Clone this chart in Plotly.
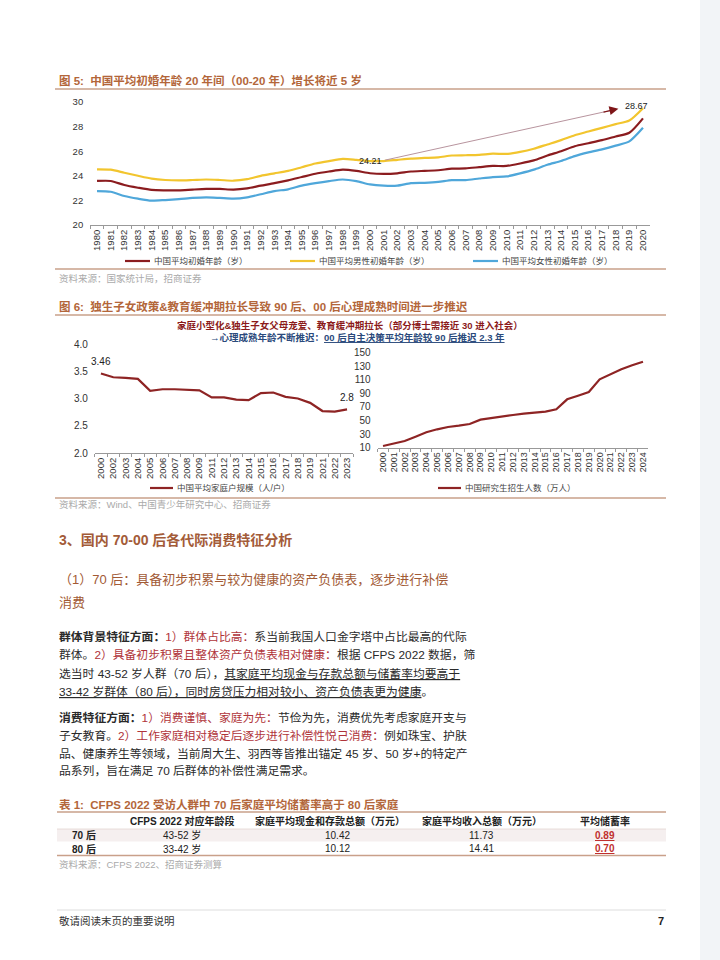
import plotly.graph_objects as go

W, H = 720, 960


def px(x):
    return x / W


def py(y):
    return 1 - y / H


FONT = "Liberation Sans, Noto Sans CJK SC, sans-serif"
TITLE_C = "#B3663A"
SEP_C = "#C9A08A"
RED_TXT = "#B0343A"
DARK = "#333333"

# ---------------- Figure 5 data ----------------
years5 = ["1980", "1981", "1982", "1983", "1984", "1985", "1986", "1987", "1988", "1989",
          "1990", "1991", "1992", "1993", "1994", "1995", "1996", "1997", "1998", "1999",
          "2000", "2001", "2002", "2003", "2004", "2005", "2006", "2007", "2008", "2009",
          "2010", "2011", "2012", "2013", "2014", "2015", "2016", "2017", "2018", "2019", "2020"]
mean_age = [23.58, 23.58, 23.25, 23.03, 22.85, 22.82, 22.82, 22.88, 22.93, 22.93, 22.88,
            22.98, 23.2, 23.4, 23.63, 23.9, 24.17, 24.35, 24.5, 24.4, 24.21,
            24.15, 24.2, 24.35, 24.4, 24.45, 24.58, 24.6, 24.7, 24.8, 24.8,
            25.0, 25.25, 25.65, 26.0, 26.4, 26.65, 26.9, 27.2, 27.5, 28.67]
male_age = [24.53, 24.5, 24.25, 24.0, 23.77, 23.66, 23.63, 23.66, 23.7, 23.66, 23.6,
            23.73, 24.0, 24.2, 24.4, 24.7, 25.0, 25.2, 25.37, 25.3, 25.2,
            25.2, 25.3, 25.4, 25.45, 25.5, 25.65, 25.67, 25.7, 25.8, 25.78,
            25.95, 26.2, 26.55, 26.9, 27.3, 27.6, 27.9, 28.2, 28.5, 29.5]
female_age = [22.76, 22.7, 22.36, 22.14, 21.98, 22.03, 22.1, 22.2, 22.25, 22.2, 22.14,
              22.25, 22.5, 22.76, 22.9, 23.2, 23.4, 23.57, 23.7, 23.57, 23.3,
              23.2, 23.2, 23.4, 23.43, 23.5, 23.65, 23.65, 23.78, 23.9, 23.95,
              24.2, 24.5, 24.9, 25.2, 25.6, 25.9, 26.15, 26.45, 26.8, 27.9]
names5 = ["中国平均初婚年龄（岁）", "中国平均男性初婚年龄（岁）", "中国平均女性初婚年龄（岁）"]
colors5 = ["#8B1C1F", "#F2C52E", "#4FA7DA"]

# ---------------- Figure 6 data ----------------
hh_years = ["2000", "2002", "2003", "2004", "2005", "2006", "2007", "2008", "2009", "2011",
            "2012", "2013", "2014", "2015", "2016", "2017", "2018", "2019", "2021", "2022", "2023"]
hh_size = [3.46, 3.39, 3.38, 3.36, 3.14, 3.17, 3.17, 3.16, 3.15, 3.02,
           3.02, 2.98, 2.97, 3.10, 3.11, 3.03, 3.00, 2.92, 2.77, 2.76, 2.80]
grad_years = ["2000", "2001", "2002", "2003", "2004", "2005", "2006", "2007", "2008", "2009",
              "2010", "2011", "2012", "2013", "2014", "2015", "2016", "2017", "2018", "2019",
              "2020", "2021", "2022", "2023", "2024"]
grad_enroll = [12.5, 16.5, 19.9, 26.2, 32.7, 37.1, 40.5, 42.4, 44.9, 51.3,
               53.8, 55.7, 58.2, 60.1, 61.6, 63.1, 66.5, 81.3, 86.6, 92.1,
               110.8, 118.2, 125.5, 131.4, 136.7]
name6a = "中国平均家庭户规模（人/户）"
name6b = "中国研究生招生人数（万人）"
LINE6 = "#8E2424"

# ---------------- Table data ----------------
tbl_headers = ["CFPS 2022 对应年龄段", "家庭平均现金和存款总额（万元）", "家庭平均收入总额（万元）", "平均储蓄率"]
tbl_cohorts = ["70 后", "80 后"]
tbl_ages = ["43-52 岁", "33-42 岁"]
tbl_cash = [10.42, 10.12]
tbl_income = [11.73, 14.41]
tbl_saving = [0.89, 0.70]

fig = go.Figure()

for vals, nm, c in zip([mean_age, male_age, female_age], names5, colors5):
    fig.add_trace(go.Scatter(x=years5, y=vals, name=nm, mode="lines",
                             line=dict(color=c, width=2.2, shape="spline", smoothing=0.7),
                             xaxis="x", yaxis="y", showlegend=False, hoverinfo="skip"))

fig.add_trace(go.Scatter(x=hh_years, y=hh_size, name=name6a, mode="lines",
                         line=dict(color=LINE6, width=2.2), xaxis="x2", yaxis="y2",
                         showlegend=False, hoverinfo="skip"))
fig.add_trace(go.Scatter(x=grad_years, y=grad_enroll, name=name6b, mode="lines",
                         line=dict(color=LINE6, width=2.2), xaxis="x3", yaxis="y3",
                         showlegend=False, hoverinfo="skip"))

xcommon = dict(type="category", tickangle=-90, tickfont=dict(size=9.5, color=DARK),
               tickmode="linear", tick0=0, dtick=1,
               ticks="outside", tickson="boundaries", ticklen=3, tickcolor="#999",
               showline=True, linecolor="#999", linewidth=1, showgrid=False, zeroline=False,
               fixedrange=True)
ycommon = dict(showgrid=False, zeroline=False, showline=False, ticks="",
               tickfont=dict(size=9.5, color=DARK), ticklabelstandoff=6, fixedrange=True)

fig.update_layout(
    width=W, height=H, margin=dict(l=0, r=0, t=0, b=0, autoexpand=False),
    paper_bgcolor="white", plot_bgcolor="rgba(0,0,0,0)",
    font=dict(family=FONT, color=DARK),
    xaxis=dict(xcommon, domain=[px(90.2), px(649.8)], anchor="y", range=[-0.5, 40.5]),
    yaxis=dict(ycommon, domain=[py(225), py(102)], anchor="x", range=[20, 30], dtick=2),
    xaxis2=dict(xcommon, domain=[px(94.8), px(353.2)], anchor="y2", range=[-0.5, 20.5]),
    yaxis2=dict(ycommon, domain=[py(453), py(344)], anchor="x2", range=[2, 4], dtick=0.5,
                tickformat=".1f", tickfont=dict(size=10, color=DARK)),
    xaxis3=dict(xcommon, domain=[px(377.6), px(648.4)], anchor="y3", range=[-0.5, 24.5],
                tickfont=dict(size=9, color=DARK)),
    yaxis3=dict(ycommon, domain=[py(447.7), py(352.7)], anchor="x3", range=[10, 150],
                tick0=10, dtick=20, tickfont=dict(size=10, color=DARK)),
    showlegend=False,
)

shapes = []


def hline(y, x0=55, x1=666, color=SEP_C, width=1.5):
    shapes.append(dict(type="line", xref="paper", yref="paper", x0=px(x0), x1=px(x1),
                       y0=py(y), y1=py(y), line=dict(color=color, width=width)))


# right page strip
shapes.append(dict(type="rect", xref="paper", yref="paper", x0=px(700), x1=1, y0=0, y1=1,
                   fillcolor="#F2F4F7", line=dict(width=0), layer="below"))
hline(89)
hline(269)
hline(315)
hline(498)
hline(812, 57)
hline(855.5, 57)
# table row band and inner line
shapes.append(dict(type="rect", xref="paper", yref="paper", x0=px(57), x1=px(666),
                   y0=py(841.5), y1=py(829), fillcolor="#F5EFEF", line=dict(width=0), layer="below"))
hline(829, 57, 666, "#E3D6D2", 0.8)
hline(910, 57, 666, "#DDDDDD", 1)

anns = []


def txt(x, y, s, size=12, color=DARK, xanchor="left", bold=False, **kw):
    if bold:
        s = "<b>" + s + "</b>"
    anns.append(dict(xref="paper", yref="paper", x=px(x), y=py(y), text=s, showarrow=False,
                     xanchor=xanchor, yanchor="middle", font=dict(size=size, color=color, family=FONT),
                     **kw))


def legend_key(x0, y, color, label, length=25):
    shapes.append(dict(type="line", xref="paper", yref="paper", x0=px(x0), x1=px(x0 + length),
                       y0=py(y), y1=py(y), line=dict(color=color, width=2.2)))
    txt(x0 + length + 2, y, label, 8.5, "#444")


# ---- Figure 5 text ----
txt(57, 81, "图 5:  中国平均初婚年龄 20 年间（00-20 年）增长将近 5 岁", 11.5, TITLE_C, bold=True)
for lx, c, nm in zip([125, 290, 473], colors5, names5):
    legend_key(lx, 261, c, nm)
txt(57, 278, "资料来源：国家统计局，招商证券", 9.5, "#AAAAAA")

i00 = years5.index("2000")
i20 = years5.index("2020")
anns.append(dict(xref="x", yref="y", x=i00, y=mean_age[i00], yshift=12, text=f"{mean_age[i00]:.2f}",
                 showarrow=False, font=dict(size=9, color="#222")))
anns.append(dict(xref="x", yref="y", x=i20, y=mean_age[i20], yshift=12, xshift=-6,
                 text=f"{mean_age[i20]:.2f}", showarrow=False, font=dict(size=9, color="#222")))
# arrow from 2000 label to 2020 label
ax0, ay0 = i00 + 1.0, 25.25
ax1, ay1 = i20 - 1.8, 29.45
slope = (ay1 - ay0) / (ax1 - ax0)
anns.append(dict(xref="x", yref="y", axref="x", ayref="y", x=ax1 - 0.6, y=ay1 - 0.6 * slope,
                 ax=ax0, ay=ay0, text="", showarrow=True, arrowhead=0, arrowwidth=1,
                 arrowcolor="#B8949E", standoff=0, startstandoff=0))
anns.append(dict(xref="x", yref="y", axref="x", ayref="y", x=ax1, y=ay1,
                 ax=ax1 - 1.2, ay=ay1 - 1.2 * slope, text="", showarrow=True,
                 arrowhead=2, arrowsize=1.5, arrowwidth=1.2, arrowcolor="#7E1518", standoff=0))

# ---- Figure 6 text ----
txt(57, 306, "图 6:  独生子女政策&amp;教育缓冲期拉长导致 90 后、00 后心理成熟时间进一步推迟", 11.5, TITLE_C, bold=True)
txt(350, 325, "家庭小型化&amp;独生子女父母宠爱、教育缓冲期拉长（部分博士需接近 30 进入社会）", 9.5,
    "#8B1A1A", xanchor="center", bold=True)
txt(208, 337.5, "→心理成熟年龄不断推迟：<span style='text-decoration:underline'>00 后自主决策平均年龄较 90 后推迟 2.3 年</span>",
    9.5, "#2B4A7C", bold=True)
anns.append(dict(xref="x2", yref="y2", x=0, y=hh_size[0], yshift=12, text=f"{hh_size[0]:.2f}",
                 showarrow=False, font=dict(size=10, color="#222")))
anns.append(dict(xref="x2", yref="y2", x=len(hh_size) - 1, y=hh_size[-1], yshift=12,
                 text=f"{hh_size[-1]:g}", showarrow=False, font=dict(size=10, color="#222")))
legend_key(150, 488, LINE6, name6a, 23)
legend_key(438, 488, LINE6, name6b, 23)
txt(57, 505, "资料来源：Wind、中国青少年研究中心、招商证券", 9.5, "#AAAAAA")

# ---- Section text ----
SEC_C = "#A35B38"
txt(57, 540, "3、国内 70-00 后各代际消费特征分析", 14, SEC_C, bold=True)
txt(57, 579, "（1）70 后：具备初步积累与较为健康的资产负债表，逐步进行补偿", 13, "#A25A35")
txt(57, 602, "消费", 13, "#A25A35")


def red(s):
    return f"<span style='color:{RED_TXT}'>{s}</span>"


def und(s):
    return f"<span style='text-decoration:underline'>{s}</span>"


body = [
    (637, "<b>群体背景特征方面：</b>" + red("1）群体占比高：") + "系当前我国人口金字塔中占比最高的代际"),
    (655, "群体。" + red("2）具备初步积累且整体资产负债表相对健康：") + "根据 CFPS 2022 数据，筛"),
    (674, "选当时 43-52 岁人群（70 后），" + und("其家庭平均现金与存款总额与储蓄率均要高于")),
    (692, und("33-42 岁群体（80 后），同时房贷压力相对较小、资产负债表更为健康") + "。"),
    (718, "<b>消费特征方面：</b>" + red("1）消费谨慎、家庭为先：") + "节俭为先，消费优先考虑家庭开支与"),
    (736, "子女教育。" + red("2）工作家庭相对稳定后逐步进行补偿性悦己消费：") + "例如珠宝、护肤"),
    (754, "品、健康养生等领域，当前周大生、羽西等皆推出锚定 45 岁、50 岁+的特定产"),
    (771, "品系列，旨在满足 70 后群体的补偿性满足需求。"),
]
for y, s in body:
    txt(57, y, s, 11.8, "#2A2A2A")

# ---- Table ----
txt(57, 804, "表 1:  CFPS 2022 受访人群中 70 后家庭平均储蓄率高于 80 后家庭", 11.5, TITLE_C, bold=True)
col_x = [182, 330, 482, 605]
for cx, h in zip(col_x, tbl_headers):
    txt(cx, 821, h, 10, "#222", xanchor="center", bold=True)
row_y = [835, 848.5]
for i, ry in enumerate(row_y):
    txt(84, ry, tbl_cohorts[i], 10, "#222", xanchor="center", bold=True)
    txt(col_x[0], ry, tbl_ages[i], 10, "#222", xanchor="center")
    txt(col_x[1] + 7, ry, f"{tbl_cash[i]:.2f}", 10, "#222", xanchor="center")
    txt(col_x[2], ry, f"{tbl_income[i]:.2f}", 10, "#222", xanchor="center")
    txt(col_x[3], ry, und(f"{tbl_saving[i]:.2f}"), 10, "#C0302E", xanchor="center", bold=True)
txt(57, 864, "资料来源：CFPS 2022、招商证券测算", 9.5, "#AAAAAA")

# ---- Footer ----
txt(57, 921, "敬请阅读末页的重要说明", 10.5, "#333")
txt(666, 921, "7", 11, "#222", xanchor="right", bold=True)

fig.update_layout(shapes=shapes, annotations=anns)
fig.write_html("out.html", config={"displayModeBar": False},
               post_script="document.body.style.margin='0px';")
